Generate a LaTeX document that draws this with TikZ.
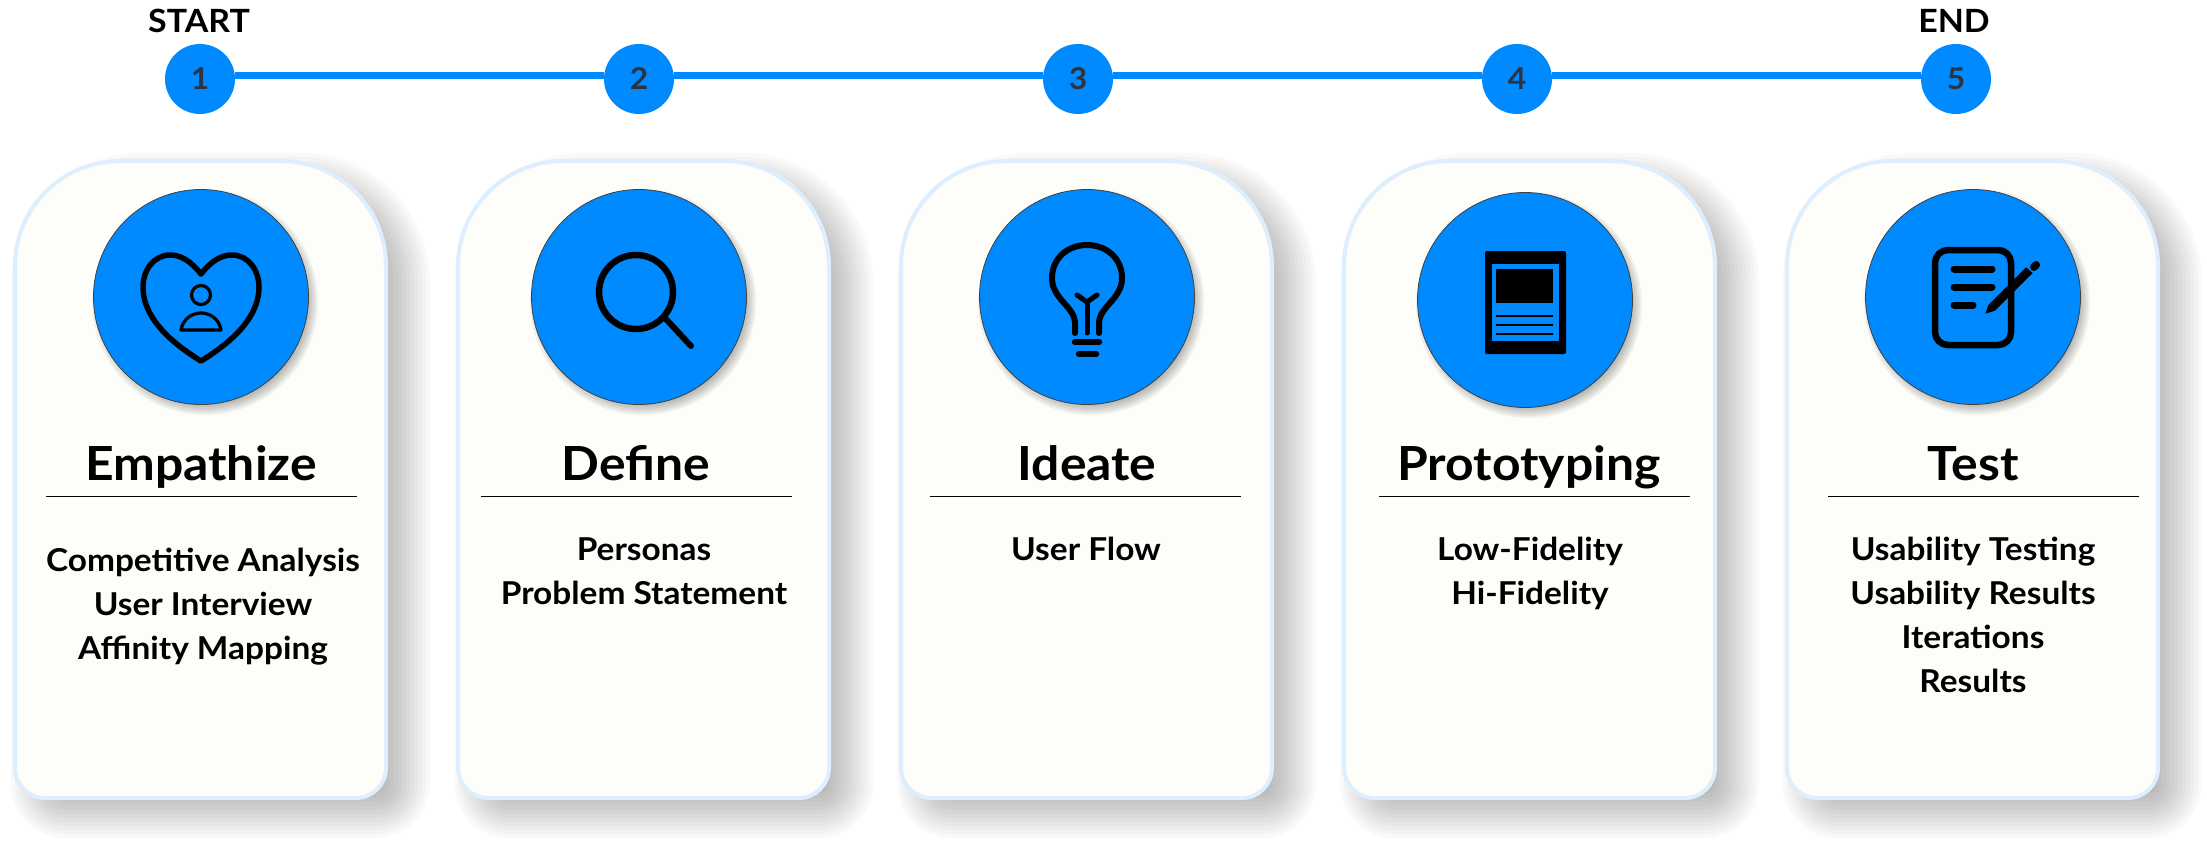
\documentclass[tikz,border=0pt]{standalone}
\usepackage{fontspec}
\setmainfont[FakeStretch=1.06]{Lato}
\usetikzlibrary{positioning}
\definecolor{stageblue}{HTML}{008AFF}
\definecolor{cardfill}{HTML}{FDFDF9}
\definecolor{cardedge}{HTML}{DDEEFF}
\definecolor{numink}{HTML}{2B3440}
\tikzset{
  stepdot/.style={
    circle, fill=stageblue, minimum size=70pt, inner sep=0pt,
    text=numink, font=\fontsize{30}{30}\selectfont\bfseries
  },
  endlabel/.style={anchor=base, inner sep=0pt, font=\fontsize{32}{32}\selectfont\bfseries},
  timeline/.style={stageblue, line width=7pt},
  cardbody/.style={draw=cardedge, fill=cardfill, line width=4pt},
  cardshadow/.style={fill=black, opacity=.023, xshift=20pt, yshift=-16pt},
  icondot/.style={
    circle, draw=black!75, fill=stageblue, line width=0.8pt,
    minimum size=215pt, inner sep=0pt
  },
  stagetitlebox/.style={anchor=base, inner sep=0pt, font=\fontsize{47}{47}\selectfont\bfseries},
  stageitems/.style={
    anchor=base, inner sep=0pt, align=center,
    font=\fontsize{31.5}{44}\selectfont\bfseries
  },
  stagerule/.style={draw=black, line width=1pt},
  iconline/.style={draw=black, line cap=round, line join=round}
}
\newcommand{\cardshape}[3]{%
  \pgfmathsetmacro{\toprad}{105+#3}%
  \pgfmathsetmacro{\botrad}{max(30+#3,0.1)}%
  \path[#1] (#2-#3,480) [rounded corners=\toprad pt] -- (#2-#3,161-#3) -- (#2+371+#3,161-#3)
    -- (#2+371+#3,480) [rounded corners=\botrad pt] -- (#2+371+#3,798+#3) -- (#2-#3,798+#3) -- cycle;
}
\newcommand{\stagecard}[4]{%
  \foreach \g in {-24,-20,...,24} {
    \cardshape{cardshadow}{#2}{\g}
  }
  \cardshape{cardbody}{#2}{0}
  \foreach \g in {-6,-4,...,6} {
    \fill[black, opacity=.05] (#3+4,#4+5) circle[radius=107+\g];
  }
  \node[icondot] (#1) at (#3,#4) {};
}
\newcommand{\stagetext}[7]{%
  \node[stagetitlebox] (#1title) at (#2,480) {#4};
  \draw[stagerule] (#3,496) -- ++(311,0);
  \node[stageitems] (#1items) at (#5,#6) {#7};
}

\begin{document}
\begin{tikzpicture}[x=1pt, y=-1pt]
    \useasboundingbox[fill=white] (0,0) rectangle (2207,845);

    \node[stepdot] (step1) at (200,79) {1};
    \node[stepdot] (step2) at (639,79) {2};
    \node[stepdot] (step3) at (1078,79) {3};
    \node[stepdot] (step4) at (1517,79) {4};
    \node[stepdot] (step5) at (1956,79) {5};
    \foreach \a/\b in {step1/step2, step2/step3, step3/step4, step4/step5} {
      \draw[timeline] ([yshift=3.7pt]\a.east) -- ([yshift=3.7pt]\b.west);
    }
    \node[endlabel] (startlabel) at (199,33) {START};
    \node[endlabel] (endlabel) at (1954,33) {END};

    \stagecard{empathize}{15}{201}{297}
    \stagecard{define}{458}{639}{297}
    \stagecard{ideate}{901}{1087}{297}
    \stagecard{prototyping}{1344}{1525}{300}
    \stagecard{test}{1787}{1973}{297}

    \stagetext{empathize}{201}{46}{Empathize}{203}{659}{Competitive Analysis\\User Interview\\Affinity Mapping}
    \stagetext{define}{636}{481}{Define}{644}{604}{Personas\\Problem Statement}
    \stagetext{ideate}{1087}{930}{Ideate}{1086}{560}{User Flow}
    \stagetext{prototyping}{1529}{1379}{Prototyping}{1530}{604}{Low-Fidelity\\Hi-Fidelity}
    \stagetext{test}{1973}{1828}{Test}{1973}{692}{Usability Testing\\Usability Results\\Iterations\\Results}

    \draw[iconline, line width=5.5pt] (201,274) .. controls (190,260) and (180,255) .. (170,255)
      .. controls (154,255) and (143,270) .. (143,287) .. controls (143,320) and (175,345) .. (201,361)
      .. controls (227,345) and (259,320) .. (259,287) .. controls (259,270) and (248,255) .. (232,255)
      .. controls (222,255) and (212,260) .. (201,274);
    \draw[iconline, line width=3.2pt] (201,295) circle[radius=9.5];
    \draw[iconline, line width=3.2pt] (181,330) .. controls (183,318) and (193,313) .. (201,313)
      .. controls (209,313) and (219,318) .. (221,330) -- cycle;

    \draw[iconline, line width=6.5pt] (636,292) circle[radius=37];
    \draw[iconline, line width=6pt] (665,318) -- (691,346);

    \draw[iconline, line width=6pt] (1075,333) -- (1075,322) .. controls (1074,312) and (1066,306) .. (1059,297)
      .. controls (1054,290) and (1052,285) .. (1052,278) .. controls (1052,258) and (1068,245) .. (1087,245)
      .. controls (1106,245) and (1122,258) .. (1122,278) .. controls (1122,285) and (1120,290) .. (1115,297)
      .. controls (1108,306) and (1100,312) .. (1099,322) -- (1099,333);
    \draw[iconline, line width=5pt] (1087,333) -- (1087,303);
    \draw[iconline, line width=5pt] (1077,295) -- (1087,302) -- (1097,295);
    \draw[iconline, line width=6.5pt] (1075,342) -- (1099,342);
    \draw[iconline, line width=6.5pt] (1079,354) -- (1096,354);

    \fill[black, rounded corners=2pt] (1485,251) rectangle (1566,354);
    \fill[stageblue] (1492,264) rectangle (1559,341);
    \fill[black] (1496,269) rectangle (1553,303);
    \foreach \y in {316,325,334} {
      \draw[black, line width=1.5pt] (1496,\y) -- (1553,\y);
    }

    \draw[draw=black, line width=6.5pt, rounded corners=13pt] (1935,250) rectangle (2011,345);
    \draw[iconline, line width=7pt] (1954,269) -- (1992,269);
    \draw[iconline, line width=7pt] (1954,287) -- (1992,287);
    \draw[iconline, line width=7pt] (1954,305) -- (1973,305);
    \fill[black, line join=round, draw=black, line width=1pt] (1986,313) -- (1989,305) -- (2026,268) -- (2032,273) -- (1995,310) -- cycle;
    \draw[iconline, line width=8pt] (2034,267) -- (2036,265);
\end{tikzpicture}
\end{document}
